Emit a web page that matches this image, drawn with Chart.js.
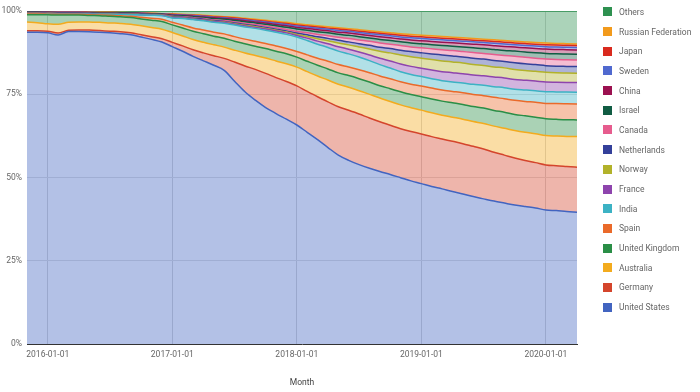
<!DOCTYPE html>
<html lang="en">
<head>
<meta charset="UTF-8">
<title>Share by country per month</title>
<script src="https://cdn.jsdelivr.net/npm/chart.js@4"></script>
<style>
  html, body { margin:0; padding:0; background:#fff; }
  body { width:700px; height:392px; position:relative; overflow:hidden; font-family:Roboto, sans-serif; }
  #chart { position:absolute; left:0; top:0; }
  #legend { position:absolute; left:603px; top:2px; margin:0; padding:0; list-style:none; font-size:8.5px; color:#666; }
  #legend li { height:19.7px; display:flex; align-items:center; white-space:nowrap; }
  #legend span.sw { width:9px; height:9px; margin-right:7px; display:inline-block; }
</style>
</head>
<body>
<canvas id="chart" width="700" height="392"></canvas>
<ul id="legend"></ul>

<script>
// months 2015-11 .. 2020-04
const months = [];
for (let y = 2015, m = 11; y < 2020 || (y === 2020 && m <= 4); m++) {
  if (m > 12) { m = 1; y++; }
  months.push(y + '-' + String(m).padStart(2, '0') + '-01');
}

// share of each country (%) per month
const unitedStates = [93.7,93.6,93.4,92.7,94.3,94.2,94.1,94.0,94.0,93.8,93.5,93.1,92.4,91.4,
  90.1,88.5,86.8,85.5,84.2,82.6,79.5,76.2,73.7,71.3,69.2,67.3,65.5,
  63.2,61.0,58.5,56.3,55.0,53.8,52.7,51.6,50.6,49.6,48.6,47.8,47.0,46.3,45.5,44.8,44.0,43.3,42.7,42.0,41.4,40.9,40.5,40.1,39.9,39.7,39.6];
const germany = [0.5,0.5,0.5,0.6,0.4,0.5,0.5,0.5,0.5,0.6,0.6,0.7,0.8,1.0,
  1.3,1.6,2.0,2.4,2.9,3.6,5.8,7.8,9.3,10.3,10.8,11.3,11.7,
  12.2,12.8,13.6,14.4,15.0,15.2,15.1,14.9,14.7,14.6,14.7,14.8,14.9,14.9,15.0,15.0,15.0,14.9,14.6,14.3,14.0,13.7,13.5,13.5,13.4,13.5,13.5];
const australia = [2.6,2.4,2.2,2.6,2.4,2.4,2.4,2.5,2.5,2.5,2.6,2.7,2.8,2.9,
  3.0,3.0,3.1,3.2,3.3,3.4,3.6,3.9,4.2,4.6,5.0,5.3,5.6,
  5.9,6.2,6.5,6.7,6.9,7.0,7.1,7.1,7.1,7.1,7.1,7.1,7.1,7.1,7.2,7.3,7.4,7.6,7.8,8.0,8.2,8.4,8.6,8.8,8.9,9.0,9.2];
const unitedKingdom = [2.2,2.4,2.7,2.8,2.2,2.1,2.0,2.0,2.0,2.0,2.0,2.1,2.2,2.3,
  2.3,2.4,2.5,2.6,2.6,2.7,2.7,2.8,2.8,2.9,2.9,3.0,3.0,
  3.1,3.2,3.3,3.4,3.5,3.6,3.7,3.7,3.8,3.9,3.9,4.0,4.1,4.2,4.3,4.4,4.5,4.6,4.7,4.8,4.8,4.9,4.9,5.0,5.0,5.0,5.0];
const spain = [0.2,0.2,0.2,0.2,0.2,0.2,0.2,0.2,0.3,0.3,0.4,0.5,0.6,0.7,
  0.8,0.9,1.0,1.1,1.2,1.3,1.4,1.4,1.5,1.5,1.6,1.6,1.7,
  1.9,2.1,2.3,2.5,2.6,2.7,2.8,2.9,3.0,3.0,3.1,3.2,3.3,3.3,3.4,3.5,3.6,3.7,3.9,4.0,4.2,4.3,4.5,4.6,4.7,4.8,4.8];
const india = [0.1,0.1,0.1,0.1,0.1,0.1,0.2,0.2,0.3,0.4,0.5,0.7,0.9,1.1,
  1.3,2.0,2.5,2.8,3.0,3.2,3.5,3.7,3.9,4.0,4.1,4.2,4.3,
  4.3,4.2,4.1,4.0,3.9,3.8,3.6,3.4,3.2,3.0,2.9,2.8,2.8,2.8,2.8,2.9,3.0,3.1,3.2,3.3,3.3,3.4,3.4,3.5,3.5,3.5,3.5];
const france = [0.05,0.05,0.05,0.05,0.05,0.05,0.05,0.05,0.05,0.05,0.05,0.05,0.05,0.05,
  0.1,0.1,0.1,0.15,0.2,0.2,0.25,0.3,0.3,0.35,0.4,0.45,0.5,
  0.7,0.9,1.1,1.3,1.4,1.5,1.7,1.9,2.1,2.3,2.4,2.5,2.6,2.7,2.8,2.8,2.8,2.8,2.9,2.9,2.9,2.9,2.9,2.9,2.9,2.9,2.9];
const norway = [0.05,0.05,0.05,0.05,0.05,0.05,0.05,0.05,0.05,0.05,0.05,0.05,0.05,0.05,
  0.1,0.1,0.1,0.1,0.1,0.15,0.15,0.2,0.2,0.2,0.25,0.25,0.3,
  0.5,0.7,0.9,1.1,1.3,1.5,1.8,2.1,2.4,2.7,2.9,3.0,3.1,3.2,3.2,3.2,3.1,3.1,3.0,3.0,3.0,2.9,2.9,2.9,2.8,2.8,2.8];
const netherlands = [0.1,0.1,0.1,0.1,0.1,0.1,0.1,0.1,0.1,0.1,0.1,0.1,0.1,0.1,
  0.15,0.15,0.2,0.2,0.2,0.2,0.25,0.25,0.3,0.3,0.3,0.35,0.4,
  0.5,0.6,0.7,0.8,0.9,1.0,1.1,1.2,1.3,1.4,1.5,1.6,1.7,1.8,1.8,1.8,1.9,1.9,1.9,1.9,2.0,2.0,2.0,2.0,2.0,2.0,2.0];
const canada = [0.05,0.05,0.05,0.05,0.05,0.05,0.05,0.05,0.05,0.05,0.05,0.05,0.05,0.05,
  0.15,0.15,0.2,0.2,0.25,0.25,0.3,0.3,0.35,0.4,0.4,0.45,0.5,
  0.6,0.7,0.8,0.9,1.0,1.1,1.2,1.3,1.3,1.4,1.4,1.5,1.5,1.5,1.6,1.6,1.7,1.7,1.8,1.8,1.9,1.9,1.9,2.0,2.0,2.0,2.0];
const israel = [0.15,0.15,0.15,0.15,0.15,0.15,0.15,0.15,0.15,0.15,0.15,0.15,0.15,0.15,
  0.25,0.3,0.3,0.35,0.4,0.4,0.45,0.5,0.5,0.55,0.6,0.65,0.7,
  0.75,0.8,0.85,0.9,0.95,1.0,1.0,1.05,1.1,1.1,1.15,1.2,1.25,1.3,1.3,1.35,1.4,1.45,1.5,1.5,1.55,1.6,1.6,1.65,1.7,1.7,1.7];
const china = [0.05,0.05,0.05,0.05,0.05,0.05,0.05,0.05,0.05,0.05,0.05,0.05,0.05,0.05,
  0.1,0.1,0.15,0.15,0.2,0.2,0.25,0.3,0.3,0.35,0.4,0.45,0.5,
  0.55,0.6,0.6,0.65,0.7,0.7,0.75,0.8,0.8,0.85,0.9,0.9,0.95,1.0,1.0,1.05,1.1,1.1,1.15,1.2,1.2,1.25,1.3,1.3,1.3,1.3,1.3];
const sweden = [0.05,0.05,0.05,0.05,0.05,0.05,0.05,0.05,0.05,0.05,0.05,0.05,0.05,0.05,
  0.15,0.15,0.2,0.2,0.2,0.25,0.25,0.3,0.3,0.3,0.35,0.35,0.4,
  0.4,0.45,0.45,0.5,0.5,0.55,0.55,0.6,0.6,0.6,0.65,0.65,0.7,0.7,0.7,0.7,0.7,0.7,0.7,0.7,0.7,0.7,0.7,0.7,0.7,0.7,0.7];
const japan = [0.05,0.05,0.05,0.05,0.05,0.05,0.05,0.05,0.05,0.05,0.05,0.05,0.05,0.05,
  0.1,0.1,0.1,0.15,0.15,0.15,0.2,0.2,0.2,0.25,0.25,0.3,0.3,
  0.3,0.35,0.35,0.4,0.4,0.4,0.45,0.45,0.45,0.5,0.5,0.5,0.5,0.5,0.5,0.5,0.5,0.5,0.55,0.55,0.55,0.55,0.55,0.6,0.6,0.6,0.6];
const russianFederation = [0.05,0.05,0.05,0.05,0.05,0.05,0.05,0.05,0.05,0.05,0.05,0.05,0.05,0.05,
  0.1,0.1,0.15,0.15,0.2,0.2,0.25,0.25,0.3,0.3,0.35,0.35,0.4,
  0.4,0.4,0.4,0.4,0.4,0.45,0.45,0.45,0.45,0.45,0.5,0.5,0.5,0.5,0.5,0.5,0.5,0.5,0.5,0.5,0.5,0.5,0.5,0.5,0.5,0.5,0.5];
const others = [0.2,0.2,0.25,0.3,0.3,0.3,0.35,0.4,0.4,0.45,0.5,0.6,0.7,0.8,
  0.9,1.0,1.1,1.3,1.5,1.7,1.9,2.2,2.5,2.8,3.1,3.4,3.8,
  4.1,4.4,4.7,5.0,5.3,5.6,5.9,6.2,6.5,6.8,7.0,7.2,7.4,7.6,7.8,8.0,8.2,8.4,8.6,8.8,9.0,9.2,9.4,9.6,9.7,9.8,9.9];

// stack order, bottom to top
const seriesNames = ['United States','Germany','Australia','United Kingdom','Spain','India','France','Norway',
  'Netherlands','Canada','Israel','China','Sweden','Japan','Russian Federation','Others'];
const seriesValues = [unitedStates, germany, australia, unitedKingdom, spain, india, france, norway,
  netherlands, canada, israel, china, sweden, japan, russianFederation, others];
const seriesColors = ['#4264c0','#d4452c','#f3ab1e','#2a8e46','#ea6a2a','#3cb2c4','#8e44ad','#b2b22a',
  '#34409a','#e65c8e','#115c43','#9b1150','#5069cf','#d92a1e','#f29a1c','#2e9150'];

function rgba(hex, a) {
  const n = parseInt(hex.slice(1), 16);
  return `rgba(${n >> 16},${(n >> 8) & 255},${n & 255},${a})`;
}

// 100% stacking: each month scaled so the shares add up to 100
const totals = months.map((_, i) => seriesValues.reduce((s, arr) => s + arr[i], 0));
const datasets = seriesNames.map((name, k) => ({
  label: name,
  data: seriesValues[k].map((v, i) => v / totals[i] * 100),
  borderColor: seriesColors[k],
  backgroundColor: rgba(seriesColors[k], 0.4),
  fill: k === 0 ? 'origin' : '-1'
}));

Chart.defaults.font.family = 'Roboto, sans-serif';
const tickFont = { family: 'Roboto', size: 8.5 };

new Chart(document.getElementById('chart'), {
  type: 'line',
  data: { labels: months, datasets },
  options: {
    responsive: false,
    animation: false,
    layout: { padding: { top: 11, right: 123, bottom: 0, left: 0 } },
    plugins: { legend: { display: false }, tooltip: { enabled: false } },
    elements: {
      point: { radius: 0 },
      line: { borderWidth: 1.5, cubicInterpolationMode: 'monotone' }
    },
    scales: {
      x: {
        offset: false,
        grid: {
          drawTicks: false,
          color: c => (months[c.index] || '').endsWith('-01-01') ? '#d6d6d6' : 'rgba(0,0,0,0)'
        },
        border: { display: true, color: '#333', width: 1 },
        ticks: {
          autoSkip: false, maxRotation: 0, minRotation: 0, padding: 6,
          color: '#666', font: tickFont,
          callback: (v, i) => months[i].endsWith('-01-01') ? months[i] : ''
        },
        title: { display: true, text: 'Month', color: '#444', font: tickFont, padding: { top: 4, bottom: 4 } },
        afterFit: s => { s.height = 48; }
      },
      y: {
        stacked: true, min: 0, max: 100,
        grid: {
          drawTicks: false,
          color: c => c.tick && c.tick.value === 0 ? 'rgba(0,0,0,0)' : '#e0e0e0'
        },
        border: { display: false },
        ticks: { stepSize: 25, padding: 5, color: '#666', font: tickFont, callback: v => v + '%' },
        afterFit: s => { s.width = 27; }
      }
    }
  }
});

// legend, top entry is the top of the stack
const ul = document.getElementById('legend');
seriesNames.slice().reverse().forEach((name, j) => {
  const k = seriesNames.length - 1 - j;
  const li = document.createElement('li');
  li.innerHTML = `<span class="sw" style="background:${seriesColors[k]}"></span>${name}`;
  ul.appendChild(li);
});
</script>
</body>
</html>
